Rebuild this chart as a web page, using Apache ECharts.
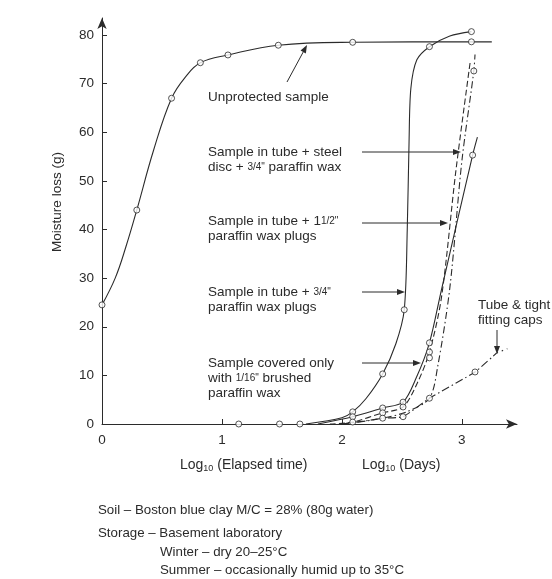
<!DOCTYPE html>
<html>
<head>
<meta charset="utf-8">
<script src="https://cdn.jsdelivr.net/npm/echarts@6.0.0/dist/echarts.min.js"></script>
<style>
  html, body { margin: 0; padding: 0; background: #ffffff; }
  #chart { width: 552px; height: 579px; }
</style>
</head>
<body>
<div id="chart"></div>
<script>
// Tick values of both axes
const xTickValues = [0, 1, 2, 3];
const yTickValues = [0, 10, 20, 30, 40, 50, 60, 70, 80];

// Fitted curves: [log10 elapsed days, moisture loss g]
const unprotectedCurve = [[0, 24.5], [0.11, 30], [0.2, 36.5], [0.29, 44], [0.43, 56.3], [0.58, 67], [0.7, 71.5], [0.82, 74.3], [1.05, 75.9], [1.47, 77.9], [2.09, 78.5], [3.08, 78.6], [3.25, 78.6]];
const plug34Curve = [[1.7, 0], [2.0, 1.3], [2.09, 2.5], [2.2, 5.2], [2.34, 10.3], [2.45, 16.5], [2.52, 23.5], [2.545, 40], [2.56, 58], [2.575, 69], [2.625, 74.9], [2.73, 77.6], [2.9, 79.8], [3.08, 80.7]];
const brushedCurve = [[1.8, 0], [2.09, 1.5], [2.34, 3.3], [2.51, 4.5], [2.62, 9.5], [2.73, 16.7], [2.83, 27.6], [3.09, 55.3], [3.13, 59]];
const plug112Curve = [[1.9, 0], [2.09, 0.4], [2.34, 2.3], [2.51, 3.5], [2.63, 8.5], [2.73, 14.8], [2.83, 26], [2.95, 52], [3.07, 74.5]];
const steelDiscCurve = [[2.0, 0], [2.34, 1.2], [2.55, 2.6], [2.73, 5.3], [2.8, 12], [2.9, 28], [3.0, 54], [3.1, 72.6], [3.11, 76]];
const capsCurve = [[2.0, 0], [2.2, 0.6], [2.34, 1.2], [2.51, 1.5], [2.73, 5.3], [3.11, 10.7], [3.29, 14.6]];
const capsTail = [[3.29, 14.6], [3.38, 15.5]];

// Measured points
const unprotectedObs = [[0, 24.5], [0.29, 44], [0.58, 67], [0.82, 74.3], [1.05, 75.9], [1.47, 77.9], [2.09, 78.5], [3.08, 78.6]];
const zeroObs = [[1.14, 0], [1.48, 0], [1.65, 0]];
const plug34Obs = [[2.09, 2.5], [2.34, 10.3], [2.52, 23.5], [2.73, 77.6], [3.08, 80.7]];
const brushedObs = [[2.09, 1.5], [2.34, 3.3], [2.51, 4.5], [2.73, 16.7], [3.09, 55.3]];
const plug112Obs = [[2.09, 0.4], [2.34, 2.3], [2.51, 3.5], [2.73, 14.8]];
const steelDiscObs = [[2.73, 13.6], [3.1, 72.6]];
const capsObs = [[2.34, 1.2], [2.51, 1.5], [2.73, 5.3], [3.11, 10.7]];

const INK = '#2b2b2b';
const FONT = '"Liberation Sans", Arial, sans-serif';
const FS = 13.5;

function curve(name, data, type, smooth) {
  return {
    name, type: 'line', data, showSymbol: false, smooth: smooth,
    lineStyle: { color: INK, width: 1.1, type: type }, z: 2, silent: true
  };
}
function points(name, data) {
  return {
    name, type: 'scatter', data, symbol: 'circle', symbolSize: 6,
    itemStyle: { color: '#ffffff', borderColor: INK, borderWidth: 1 }, z: 5, silent: true
  };
}

function arrow(x1, y1, x2, y2) {
  const a = Math.atan2(y2 - y1, x2 - x1);
  const L = 8, W = 3;
  const bx = x2 - L * Math.cos(a), by = y2 - L * Math.sin(a);
  return [
    { type: 'line', shape: { x1, y1, x2: bx, y2: by }, style: { stroke: INK, lineWidth: 1 } },
    { type: 'polygon', shape: { points: [[x2, y2], [bx - W * Math.sin(a), by + W * Math.cos(a)], [bx + W * Math.sin(a), by - W * Math.cos(a)]] }, style: { fill: INK } }
  ];
}

function label(x, y, text, size) {
  return {
    type: 'text', x, y,
    style: {
      text, fill: INK, font: (size || FS) + 'px ' + FONT, textVerticalAlign: 'middle',
      rich: {
        s: { fontSize: 10, fontFamily: FONT, fill: INK },
        sub: { fontSize: 9, fontFamily: FONT, fill: INK, padding: [7, 0, 0, 0] }
      }
    }
  };
}

const chart = echarts.init(document.getElementById('chart'), null, { renderer: 'canvas' });

const graphics = [
  // y axis title
  { type: 'text', x: 57, y: 202, rotation: Math.PI / 2,
    style: { text: 'Moisture loss (g)', fill: INK, font: FS + 'px ' + FONT, align: 'center', verticalAlign: 'middle' } },
  // x axis titles
  label(180, 465, 'Log{sub|10} (Elapsed time)', 14),
  label(362, 465, 'Log{sub|10} (Days)', 14),
  // curve labels
  label(208, 97, 'Unprotected sample'),
  label(208, 152, 'Sample in tube + steel'),
  label(208, 167, 'disc + {s|3/4"} paraffin wax'),
  label(208, 221, 'Sample in tube + 1{s|1/2"}'),
  label(208, 236, 'paraffin wax plugs'),
  label(208, 292, 'Sample in tube + {s|3/4"}'),
  label(208, 307, 'paraffin wax plugs'),
  label(208, 363, 'Sample covered only'),
  label(208, 378, 'with {s|1/16"} brushed'),
  label(208, 393, 'paraffin wax'),
  label(478, 305, 'Tube & tight'),
  label(478, 320, 'fitting caps'),
  // notes below the chart
  label(98, 510, 'Soil \u2013 Boston blue clay M/C = 28% (80g water)', 13.3),
  label(98, 533, 'Storage \u2013 Basement laboratory', 13.3),
  label(160, 552, 'Winter \u2013 dry 20\u201325\u00B0C', 13.3),
  label(160, 570, 'Summer \u2013 occasionally humid up to 35\u00B0C', 13.3)
].concat(
  arrow(287, 82, 307, 45),
  arrow(362, 152, 461, 152),
  arrow(362, 223, 448, 223),
  arrow(362, 292, 405, 292),
  arrow(362, 363, 421, 363),
  arrow(497, 330, 497, 354)
);

chart.setOption({
  backgroundColor: '#ffffff',
  animation: false,
  textStyle: { fontFamily: FONT },
  grid: { left: 102, top: 18, width: 415, height: 406 },
  xAxis: {
    type: 'value', min: 0, max: 3.46,
    axisLine: { show: true, symbol: ['none', 'arrow'], symbolSize: [7, 11], lineStyle: { color: INK, width: 1 } },
    axisTick: { show: true, inside: true, length: 5, customValues: [1, 2, 3], lineStyle: { color: INK } },
    axisLabel: { customValues: xTickValues, margin: 9, fontSize: FS, color: INK, fontFamily: FONT },
    splitLine: { show: false }
  },
  yAxis: {
    type: 'value', min: 0, max: 83.5,
    axisLine: { show: true, symbol: ['none', 'arrow'], symbolSize: [7, 11], lineStyle: { color: INK, width: 1 } },
    axisTick: { show: true, inside: true, length: 5, customValues: yTickValues, lineStyle: { color: INK } },
    axisLabel: { customValues: yTickValues, margin: 8, fontSize: FS, color: INK, fontFamily: FONT },
    splitLine: { show: false }
  },
  series: [
    curve('Unprotected sample', unprotectedCurve, 'solid', 0.4),
    curve('Tube + 3/4" wax plugs', plug34Curve, 'solid', 0.3),
    curve('Covered with 1/16" brushed wax', brushedCurve, 'solid', 0.3),
    curve('Tube + 1 1/2" wax plugs', plug112Curve, [6, 3], 0.3),
    curve('Tube + steel disc + 3/4" wax', steelDiscCurve, [7, 3, 1.5, 3], 0.3),
    curve('Tube & tight fitting caps', capsCurve, [8, 3, 1.5, 3], 0.15),
    curve('Tube & tight fitting caps (trend)', capsTail, [1.5, 4], false),
    points('Unprotected sample', unprotectedObs),
    points('No loss', zeroObs),
    points('Tube + 3/4" wax plugs', plug34Obs),
    points('Covered with 1/16" brushed wax', brushedObs),
    points('Tube + 1 1/2" wax plugs', plug112Obs),
    points('Tube + steel disc + 3/4" wax', steelDiscObs),
    points('Tube & tight fitting caps', capsObs)
  ],
  graphic: graphics
});
</script>
</body>
</html>
